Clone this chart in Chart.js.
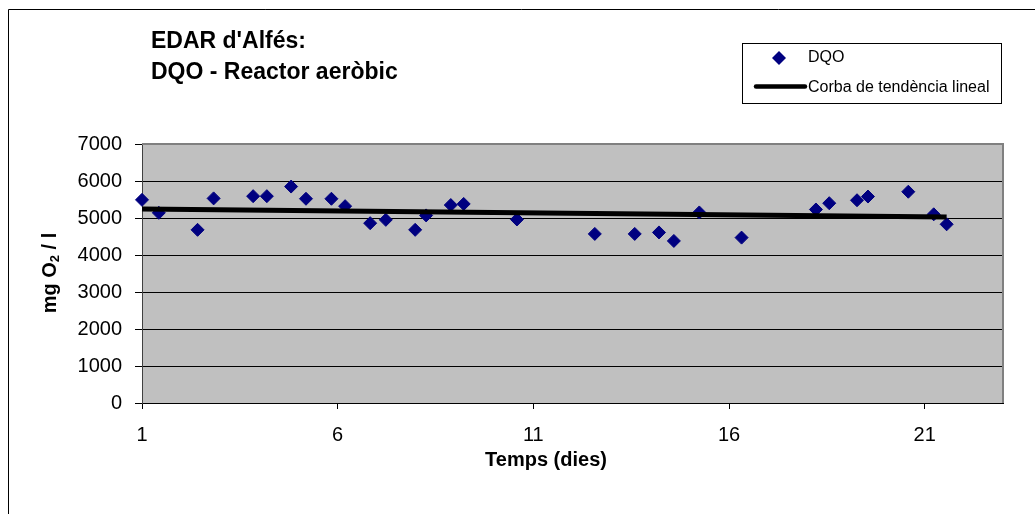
<!DOCTYPE html>
<html>
<head>
<meta charset="utf-8">
<title>EDAR d'Alfés: DQO - Reactor aeròbic</title>
<script src="https://cdn.jsdelivr.net/npm/chart.js@4.4.1/dist/chart.umd.min.js"></script>
<style>
    html, body { margin: 0; padding: 0; background: #fff; }
    canvas { display: block; }
</style>
</head>
<body>
<canvas id="dqoChart" width="1035" height="514"></canvas>
<script>
// Temps (dies) of every sample and the DQO measured (mg O2 / l)
const days = [1.0, 1.43, 2.42, 2.83, 3.84, 4.19, 4.81, 5.19, 5.84, 6.19,
              6.83, 7.23, 7.98, 8.26, 8.89, 9.22, 10.58, 12.57, 13.59, 14.21,
              14.59, 15.24, 16.32, 18.22, 18.56, 19.27, 19.55, 20.58, 21.23, 21.56];
const dqo = [5490, 5140, 4680, 5530, 5590, 5590, 5850, 5520, 5520, 5320,
             4860, 4950, 4680, 5070, 5350, 5380, 4960, 4570, 4570, 4610,
             4380, 5150, 4470, 5230, 5400, 5480, 5580, 5710, 5100, 4830];

// linear trend line, ends
const trendDays = [1.0, 21.56];
const trendValues = [5240, 5030];

const xTicks = [1, 6, 11, 16, 21];
const yTicks = [0, 1000, 2000, 3000, 4000, 5000, 6000, 7000];

const titleLines = ["EDAR d'Alfés:", 'DQO - Reactor aeròbic'];
const xTitle = 'Temps (dies)';
const seriesName = 'DQO';
const trendName = 'Corba de tendència lineal';

const FONT = "'Liberation Sans', Arial, sans-serif";
const NAVY = '#000080';

const frame = {
    id: 'frame',
    beforeDraw(chart) {
        const { ctx, chartArea: a } = chart;
        ctx.save();
        // outer chart border (left and top only are visible)
        ctx.strokeStyle = '#000';
        ctx.lineWidth = 1;
        ctx.beginPath();
        ctx.moveTo(8.5, 514);
        ctx.lineTo(8.5, 9.5);
        ctx.lineTo(1035, 9.5);
        ctx.stroke();
        // plot area
        ctx.fillStyle = '#c0c0c0';
        ctx.fillRect(a.left, a.top, a.right - a.left, a.bottom - a.top);
        ctx.restore();
    },
    afterDraw(chart) {
        const { ctx, chartArea: a } = chart;
        ctx.save();
        ctx.strokeStyle = '#808080';
        ctx.lineWidth = 2;
        ctx.beginPath();
        ctx.moveTo(a.left, a.top);
        ctx.lineTo(a.right, a.top);
        ctx.lineTo(a.right, a.bottom);
        ctx.stroke();

        // title
        ctx.fillStyle = '#000';
        ctx.font = 'bold 23px ' + FONT;
        ctx.textAlign = 'left';
        ctx.textBaseline = 'middle';
        ctx.fillText(titleLines[0], 151, 42);
        ctx.fillText(titleLines[1], 151, 73);

        // x axis title
        ctx.font = 'bold 20px ' + FONT;
        ctx.textAlign = 'center';
        ctx.fillText(xTitle, 546, 460);
        ctx.textAlign = 'left';

        // y axis title with subscript
        ctx.translate(50, 273);
        ctx.rotate(-Math.PI / 2);
        const parts = [['mg O', 20, 0], ['2', 13, 5], [' / l', 20, 0]];
        let total = 0;
        parts.forEach(p => { ctx.font = 'bold ' + p[1] + 'px ' + FONT; total += ctx.measureText(p[0]).width; });
        let x = -total / 2;
        parts.forEach(p => {
            ctx.font = 'bold ' + p[1] + 'px ' + FONT;
            ctx.fillText(p[0], x, p[2]);
            x += ctx.measureText(p[0]).width;
        });
        ctx.restore();

        // legend
        ctx.save();
        ctx.fillStyle = '#fff';
        ctx.fillRect(742, 43, 260, 61);
        ctx.strokeStyle = '#000';
        ctx.lineWidth = 1;
        ctx.strokeRect(742.5, 43.5, 259, 60);
        ctx.fillStyle = NAVY;
        ctx.beginPath();
        ctx.moveTo(772, 58);
        ctx.lineTo(779, 51);
        ctx.lineTo(786, 58);
        ctx.lineTo(779, 65);
        ctx.closePath();
        ctx.fill();
        ctx.strokeStyle = '#000';
        ctx.lineWidth = 4.5;
        ctx.lineCap = 'round';
        ctx.beginPath();
        ctx.moveTo(756, 86.5);
        ctx.lineTo(805, 86.5);
        ctx.stroke();
        ctx.fillStyle = '#000';
        ctx.font = '16px ' + FONT;
        ctx.textBaseline = 'middle';
        ctx.fillText(seriesName, 808, 58);
        ctx.fillText(trendName, 808, 88);
        ctx.restore();
    }
};

new Chart(document.getElementById('dqoChart'), {
    type: 'scatter',
    data: {
        datasets: [{
            label: trendName,
            data: trendDays.map((d, i) => ({ x: d, y: trendValues[i] })),
            showLine: true,
            borderColor: '#000',
            borderWidth: 5,
            pointRadius: 0,
            clip: false,
            order: 1
        }, {
            label: seriesName,
            data: days.map((d, i) => ({ x: d, y: dqo[i] })),
            pointStyle: 'rectRot',
            pointRadius: 6.5,
            pointBackgroundColor: NAVY,
            pointBorderColor: NAVY,
            pointBorderWidth: 1,
            clip: false,
            order: 2
        }]
    },
    options: {
        responsive: false,
        devicePixelRatio: 1,
        animation: false,
        layout: { padding: { left: 0, right: 32, top: 144, bottom: 0 } },
        plugins: {
            legend: { display: false },
            title: { display: false },
            tooltip: { enabled: false }
        },
        scales: {
            x: {
                type: 'linear',
                min: 1,
                max: 23,
                afterBuildTicks: (scale) => { scale.ticks = xTicks.map(v => ({ value: v })); },
                afterFit: (scale) => { scale.height = 111; },
                grid: { drawOnChartArea: false, drawTicks: true, tickLength: 6, color: '#000' },
                border: { color: '#000', width: 1 },
                ticks: { color: '#000', padding: 14, font: { family: FONT, size: 20 }, callback: (v) => String(v) }
            },
            y: {
                min: 0,
                max: 7000,
                afterBuildTicks: (scale) => { scale.ticks = yTicks.map(v => ({ value: v })); },
                afterFit: (scale) => { scale.width = 142; },
                grid: { color: '#000', lineWidth: 1, tickLength: 7 },
                border: { color: '#404040', width: 1 },
                ticks: { color: '#000', padding: 13, font: { family: FONT, size: 20 }, callback: (v) => String(v) }
            }
        }
    },
    plugins: [frame]
});
</script>
</body>
</html>
